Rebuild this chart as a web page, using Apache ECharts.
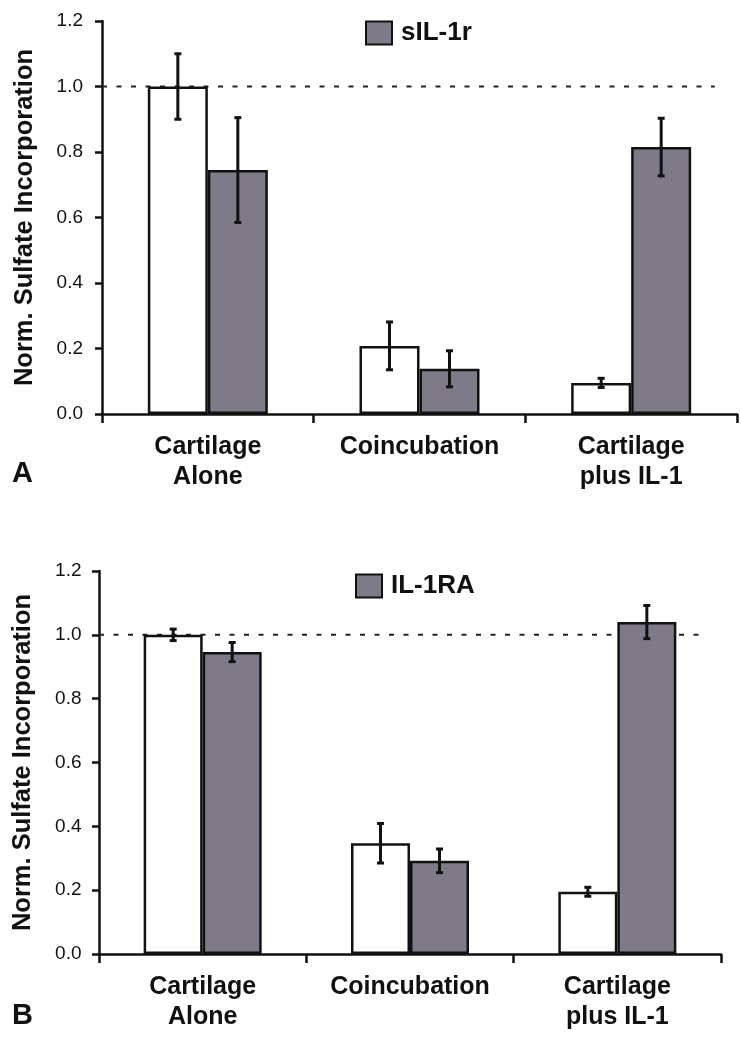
<!DOCTYPE html>
<html>
<head>
<meta charset="utf-8">
<script src="https://cdn.jsdelivr.net/npm/echarts@6/dist/echarts.min.js"></script>
<style>
  html, body { margin: 0; padding: 0; background: #fff; }
  #chart { width: 741px; height: 1050px; }
</style>
</head>
<body>
<div id="chart"></div>
<script>
// ---- data ----
const categories = ['Cartilage\nAlone', 'Coincubation', 'Cartilage\nplus IL-1'];
const yTicks = [0, 0.2, 0.4, 0.6, 0.8, 1.0, 1.2];
const referenceLevel = 1.0;

// Panel A (sIL-1r)
const aControl = [1.0, 0.208, 0.095];
const aControlErr = [0.10, 0.073, 0.014];
const aTreated = [0.745, 0.138, 0.815];
const aTreatedErr = [0.16, 0.055, 0.088];
const aTreatedName = 'sIL-1r';

// Panel B (IL-1RA)
const bControl = [1.0, 0.347, 0.195];
const bControlErr = [0.018, 0.062, 0.014];
const bTreated = [0.946, 0.292, 1.040];
const bTreatedErr = [0.030, 0.037, 0.052];
const bTreatedName = 'IL-1RA';

// ---- styles ----
const FONT = '"Liberation Sans", Arial, Helvetica, sans-serif';
const GRAY = '#7f7a87';
const INK = '#111';

const chart = echarts.init(document.getElementById('chart'), null, { renderer: 'canvas' });

function errData(vals, errs) {
  return vals.map((v, i) => [i, v, errs[i]]);
}

function errorSeries(idx, vals, errs, sign, barW) {
  return {
    type: 'custom',
    xAxisIndex: idx, yAxisIndex: idx,
    z: 10,
    silent: true,
    data: errData(vals, errs),
    renderItem: function (params, api) {
      const ci = api.value(0), v = api.value(1), e = api.value(2);
      const c = api.coord([ci, v]);
      const x = c[0] + sign * barW / 2;
      const top = api.coord([ci, v + e])[1];
      const bot = api.coord([ci, v - e])[1];
      const cap = 3.5;
      const style = { stroke: INK, lineWidth: 3 };
      return {
        type: 'group',
        children: [
          { type: 'line', shape: { x1: x, y1: top, x2: x, y2: bot }, style: style },
          { type: 'line', shape: { x1: x - cap, y1: top, x2: x + cap, y2: top }, style: style },
          { type: 'line', shape: { x1: x - cap, y1: bot, x2: x + cap, y2: bot }, style: style }
        ]
      };
    }
  };
}

function refLineSeries(idx, frac) {
  return {
    type: 'custom',
    xAxisIndex: idx, yAxisIndex: idx,
    z: 1,
    silent: true,
    data: [[0, referenceLevel]],
    renderItem: function (params, api) {
      const cs = params.coordSys;
      const y = api.coord([0, api.value(1)])[1];
      return {
        type: 'line',
        shape: { x1: cs.x, y1: y, x2: cs.x + cs.width * frac, y2: y },
        style: { stroke: '#222', lineWidth: 2, lineDash: [5, 9.5] }
      };
    }
  };
}

function xAxis(idx, margin) {
  return {
    type: 'category',
    gridIndex: idx,
    data: categories,
    boundaryGap: true,
    axisLine: { show: true, lineStyle: { color: INK, width: 2.5 } },
    axisTick: { show: true, inside: false, length: 9, alignWithLabel: false, lineStyle: { color: INK, width: 2.5 } },
    axisLabel: {
      margin: margin, color: INK, fontFamily: FONT, fontWeight: 'bold', fontSize: 25, lineHeight: 30,
      interval: 0
    },
    splitLine: { show: false }
  };
}

function yAxis(idx, labelMargin, nameGap) {
  return {
    type: 'value',
    gridIndex: idx,
    min: yTicks[0], max: yTicks[yTicks.length - 1], interval: yTicks[1] - yTicks[0],
    name: 'Norm. Sulfate Incorporation',
    nameLocation: 'middle',
    nameGap: nameGap,
    nameRotate: 90,
    nameTextStyle: { color: INK, fontFamily: FONT, fontWeight: 'bold', fontSize: 25.5 },
    axisLine: { show: true, lineStyle: { color: INK, width: 2.5 } },
    axisTick: { show: true, inside: false, length: 7, lineStyle: { color: INK, width: 2.5 } },
    axisLabel: {
      margin: labelMargin, color: INK, fontFamily: FONT, fontSize: 19,
      formatter: v => v.toFixed(1)
    },
    splitLine: { show: false }
  };
}

function barSeries(idx, name, vals, color, barW) {
  return {
    type: 'bar',
    name: name,
    xAxisIndex: idx, yAxisIndex: idx,
    data: vals,
    barWidth: barW,
    barGap: '0%',
    z: 5,
    itemStyle: { color: color, borderColor: INK, borderWidth: 2.5 },
    emphasis: { disabled: true }
  };
}

const option = {
  animation: false,
  backgroundColor: '#fff',
  grid: [
    { left: 102, right: 4, top: 21, height: 393, containLabel: false, outerBoundsMode: 'none' },
    { left: 99, right: 20, top: 571, height: 383, containLabel: false, outerBoundsMode: 'none' }
  ],
  legend: [
    {
      data: [aTreatedName],
      left: 360, top: 15,
      itemWidth: 26, itemHeight: 23, itemGap: 8,
      icon: 'rect',
      selectedMode: false,
      textStyle: { color: INK, fontFamily: FONT, fontWeight: 'bold', fontSize: 26, padding: [0, 0, 0, 4] }
    },
    {
      data: [bTreatedName],
      left: 350, top: 568,
      itemWidth: 26, itemHeight: 23, itemGap: 8,
      icon: 'rect',
      selectedMode: false,
      textStyle: { color: INK, fontFamily: FONT, fontWeight: 'bold', fontSize: 26, padding: [0, 0, 0, 4] }
    }
  ],
  xAxis: [xAxis(0, 18), xAxis(1, 18)],
  yAxis: [yAxis(0, 19, 64), yAxis(1, 17.5, 63)],
  graphic: [
    { type: 'text', left: 12, top: 459, style: { text: 'A', fill: INK, font: 'bold 29px ' + FONT } },
    { type: 'text', left: 12, top: 1001, style: { text: 'B', fill: INK, font: 'bold 29px ' + FONT } }
  ],
  series: [
    refLineSeries(0, 0.965),
    barSeries(0, 'Control A', aControl, '#ffffff', 60),
    barSeries(0, aTreatedName, aTreated, GRAY, 60),
    errorSeries(0, aControl, aControlErr, -1, 60),
    errorSeries(0, aTreated, aTreatedErr, 1, 60),

    refLineSeries(1, 0.974),
    barSeries(1, 'Control B', bControl, '#ffffff', 59),
    barSeries(1, bTreatedName, bTreated, GRAY, 59),
    errorSeries(1, bControl, bControlErr, -1, 59),
    errorSeries(1, bTreated, bTreatedErr, 1, 59)
  ]
};

chart.setOption(option);
</script>
</body>
</html>
